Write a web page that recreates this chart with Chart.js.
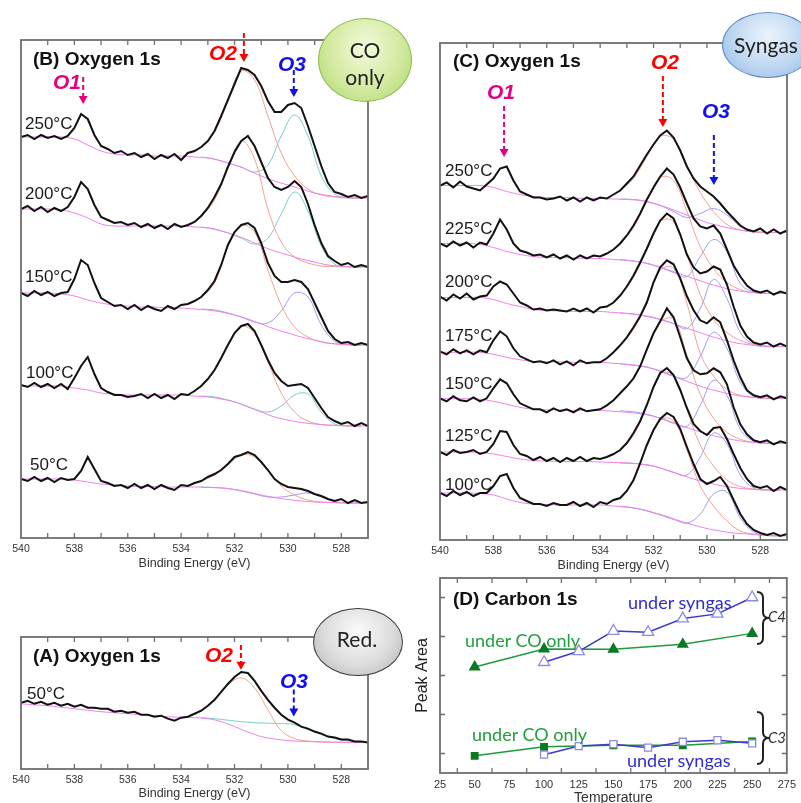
<!DOCTYPE html>
<html>
<head>
<meta charset="utf-8">
<script src="https://cdn.jsdelivr.net/npm/chart.js@4.4.1/dist/chart.umd.min.js"></script>
<style>
html, body { margin: 0; padding: 0; width: 801px; height: 803px; overflow: hidden; background: #fff; }
canvas { position: absolute; }
.t { position: absolute; white-space: nowrap; line-height: 1; transform: translateY(-50%);
     font-family: "Liberation Sans", Arial, sans-serif; color: #1a1a1a; z-index: 2; }
.ttl { font-weight: bold; font-size: 19px; color: #111; }
.temp { font-size: 17px; }
.pk { font-weight: bold; font-style: italic; font-size: 21px; }
.lab { font-family: Lato, "Open Sans", sans-serif; font-size: 18px; }
.bub { position: absolute; border-radius: 50%; z-index: 3; box-sizing: border-box; }
.bt { position: absolute; font-family: Lato, "Open Sans", sans-serif; font-size: 21px; color: #222;
      line-height: 1; transform: translate(-50%, -50%); z-index: 4; white-space: nowrap; }
svg { position: absolute; z-index: 2; }
</style>
</head>
<body>
<canvas id="cB" width="390" height="576" style="left:0;top:0"></canvas>
<canvas id="cC" width="401" height="578" style="left:400px;top:0"></canvas>
<canvas id="cA" width="390" height="213" style="left:0;top:590px"></canvas>
<canvas id="cD" width="401" height="237" style="left:400px;top:570px"></canvas>

<!-- panel B text -->
<div class="t ttl" style="left:33px;top:58px">(B) Oxygen 1s</div>
<div class="t pk" style="left:53px;top:81px;color:#e4007f">O1</div>
<div class="t pk" style="left:209px;top:52px;color:#ff0000">O2</div>
<div class="t pk" style="left:278px;top:63px;color:#1010e8">O3</div>
<div class="t temp" style="left:25px;top:123px">250°C</div>
<div class="t temp" style="left:25px;top:193px">200°C</div>
<div class="t temp" style="left:25px;top:276px">150°C</div>
<div class="t temp" style="left:26px;top:372px">100°C</div>
<div class="t temp" style="left:30px;top:464px">50°C</div>

<!-- panel C text -->
<div class="t ttl" style="left:453px;top:60px">(C) Oxygen 1s</div>
<div class="t pk" style="left:487px;top:91px;color:#e4007f">O1</div>
<div class="t pk" style="left:651px;top:61px;color:#ff0000">O2</div>
<div class="t pk" style="left:702px;top:110px;color:#1010e8">O3</div>
<div class="t temp" style="left:445px;top:170px">250°C</div>
<div class="t temp" style="left:445px;top:228px">225°C</div>
<div class="t temp" style="left:445px;top:281px">200°C</div>
<div class="t temp" style="left:445px;top:335px">175°C</div>
<div class="t temp" style="left:445px;top:383px">150°C</div>
<div class="t temp" style="left:445px;top:435px">125°C</div>
<div class="t temp" style="left:445px;top:484px">100°C</div>

<!-- panel A text -->
<div class="t ttl" style="left:33px;top:655px">(A) Oxygen 1s</div>
<div class="t pk" style="left:205px;top:654px;color:#ff0000">O2</div>
<div class="t pk" style="left:280px;top:680px;color:#1010e8">O3</div>
<div class="t temp" style="left:27px;top:693px">50°C</div>

<!-- panel D text -->
<div class="t ttl" style="left:453px;top:598px">(D) Carbon 1s</div>
<div class="t lab" style="left:628px;top:602px;color:#2f2fcf">under syngas</div>
<div class="t lab" style="left:465px;top:640px;color:#1f9f3f">under CO only</div>
<div class="t lab" style="left:472px;top:734px;color:#1f9f3f">under CO only</div>
<div class="t lab" style="left:627px;top:760px;color:#2f2fcf">under syngas</div>
<div class="t lab" style="left:768px;top:616px;font-size:15px;font-style:italic;color:#333">C4</div>
<div class="t lab" style="left:768px;top:737px;font-size:15px;font-style:italic;color:#333">C3</div>
<svg style="left:755px;top:590px" width="16" height="56">
  <path d="M2,2 Q8,2 8,8 L8,22 Q8,28 14,28 Q8,28 8,34 L8,48 Q8,54 2,54" fill="none" stroke="#222" stroke-width="2"/>
</svg>
<svg style="left:755px;top:710px" width="16" height="56">
  <path d="M2,2 Q8,2 8,8 L8,22 Q8,28 14,28 Q8,28 8,34 L8,48 Q8,54 2,54" fill="none" stroke="#222" stroke-width="2"/>
</svg>

<!-- condition bubbles -->
<div class="bub" style="left:318px;top:18px;width:94px;height:84px;border:1.5px solid #86bd45;
  background:radial-gradient(ellipse at 50% 35%, #f2fadc 0%, #d3ea9f 55%, #abd36a 100%)"></div>
<div class="bt" style="left:365px;top:49px">CO</div>
<div class="bt" style="left:365px;top:76px">only</div>
<div class="bub" style="left:722px;top:12px;width:92px;height:66px;border:1.5px solid #5889c8;
  background:radial-gradient(ellipse at 50% 35%, #eaf3fd 0%, #bfd7f1 55%, #8db5e3 100%)"></div>
<div class="bt" style="left:766px;top:44px">Syngas</div>
<div class="bub" style="left:313px;top:608px;width:90px;height:68px;border:1.5px solid #3a3a3a;
  background:radial-gradient(ellipse at 50% 35%, #fbfbfb 0%, #dcdcdc 55%, #b0b0b0 100%)"></div>
<div class="bt" style="left:357px;top:638px">Red.</div>

<script>
// ---- binding energy grids (eV) ----
const energy = [540, 539.75, 539.5, 539.25, 539, 538.75, 538.5, 538.25, 538, 537.75, 537.5, 537.25, 537,
  536.75, 536.5, 536.25, 536, 535.75, 535.5, 535.25, 535, 534.75, 534.5, 534.25, 534, 533.75, 533.5, 533.25,
  533, 532.75, 532.5, 532.25, 532, 531.75, 531.5, 531.25, 531, 530.75, 530.5, 530.25, 530, 529.75, 529.5,
  529.25, 529, 528.75, 528.5, 528.25, 528, 527.75, 527.5, 527.25, 527];
const bgEnergy = [540, 539.5, 539, 538.5, 538, 537.5, 537, 536.5, 536, 535.5, 535, 534.5, 534, 533.5, 533,
  532.5, 532, 531.5, 531, 530.5, 530, 529.5, 529, 528.5, 528, 527.5, 527];
const peakEnergy = [533.25, 532.75, 532.25, 531.75, 531.25, 530.75, 530.25, 529.75, 529.25, 528.75, 528.25, 527.75, 527.25];
const tickE = [540, 538, 536, 534, 532, 530, 528];
const minorE = [539, 538, 537, 536, 535, 534, 533, 532, 531, 530, 529, 528];

// ---- (B) O 1s under CO only: intensity above each trace's own right-end level ----
const tempsB = ['250°C', '200°C', '150°C', '100°C', '50°C'];
const offsetsB = [340, 271, 193, 112, 35];
const b250 = [61,63,59,63,60,62,59,62,70,84,79,63,52,49,45,47,43,45,41,44,39,43,40,44,38,45,47,51,57,67,
  82,98,114,130,128,123,112,97,86,86,93,95,90,72,52,32,15,6,4,1,3,0,2];
const b200 = [58,61,56,60,55,59,56,60,70,85,78,62,50,47,44,45,42,44,40,43,39,42,38,43,40,42,45,51,59,70,
  83,100,115,126,131,121,105,89,80,77,80,86,80,63,42,24,11,6,2,4,0,2,0];
const b150 = [52,49,54,50,53,49,52,53,66,85,80,62,47,43,39,40,36,40,35,39,36,34,39,36,40,41,44,48,55,64,
  80,100,113,120,122,117,102,82,69,63,63,65,63,56,42,28,14,6,2,3,0,2,0];
const b100 = [41,39,43,39,42,38,42,37,48,60,69,52,38,34,31,31,29,30,32,28,32,28,31,27,32,31,35,40,47,56,
  68,81,93,100,102,95,81,66,53,45,40,41,42,38,28,18,9,5,2,4,0,3,0];
const b50 = [24,22,26,22,25,21,25,23,24,32,46,34,22,20,17,18,15,19,15,18,14,18,15,13,18,17,20,22,26,29,
  33,39,46,48,51,48,41,33,24,19,16,15,14,12,9,7,4,2,4,0,3,0,1];
const b250Bg = [61,61,61,61,59,53,47,44,43,43,42,42,42,41,40,37,33,28,22,17,13,9,5,2.5,1,0,0];
const b200Bg = [58,58,58,57,54,49,43,41,41,41,41,41,41,40,39,36,32,27,21,16,12,8,5,2,1,0,0];
const b150Bg = [52,52,52,51,49,45,42,40,39,38,38,37,37,36,35,33,30,26,21,16,12,8,5,2,1,0,0];
const b100Bg = [40,40,40,40,38,36,33,32,31,31,31,31,31,30,29,27,24,19,14,9,6,3.5,2,1,0.5,0,0];
const b50Bg = [24,24,24,24,23,21,19,18,17,16.5,16.5,16,16,16,15.5,15,13.5,11,8,5.5,3.5,2,1,0.5,0,0,0];
const b250O2 = [50,66,97,127,118,82,45,22,9,3,1,0,0];
const b200O2 = [50,67,98,126,108,58,25,10,4,1,0.5,0,0];
const b150O2 = [47,62,98,119,113,75,40,18,8,3,1,0,0];
const b100O2 = [40,55,80,99,93,64,33,14,5,1.5,0.5,0,0];
const b50O2 = [22,28,38,48,46,33,17,8,3,1,0.5,0,0];
const b250O3 = [41,39,35,31,26,33,62,83,62,22,4,0.5,0];
const b200O3 = [40,38,34,29,23,29,53,75,56,21,3,0.5,0];
const b150O3 = [36,35,32,28,23,22,34,52,48,20,4,0.5,0];
const b100O3 = [30,29,26,22,17,14,20,31,32,14,2,0.3,0];
const b50O3 = [16,15.5,14.5,12,9,6,6,8,10,6,1.5,0.3,0];

// ---- (C) O 1s under syngas ----
const tempsC = ['250°C', '225°C', '200°C', '175°C', '150°C', '125°C', '100°C'];
const offsetsC = [307.5, 246.5, 193.5, 141.7, 96.7, 50, 4];
const c250 = [47,50,45,51,46,44,42,48,54,64,66,52,41,38,35,35,33,34,36,32,35,31,35,32,35,34,38,42,49,56,
  67,78,88,97,102,95,82,66,54,46,41,36,29,21,14,7,3,1,4,-1,3,-1,2];
const c225 = [50,47,52,48,51,46,51,49,60,74,64,50,43,41,38,39,36,39,35,38,34,38,35,38,37,40,44,50,58,68,
  80,94,106,117,125,119,106,90,75,67,65,68,60,44,28,17,8,3,1,3,-1,2,0];
const c200 = [50,46,52,48,53,47,50,51,60,65,62,53,44,41,37,38,36,37,36,35,38,35,38,34,39,40,44,51,60,71,
  84,98,113,126,133,128,112,92,79,73,75,80,77,62,40,21,10,4,2,4,0,3,0];
const c175 = [47,44,49,45,48,44,48,46,58,67,62,50,42,39,36,37,35,38,34,37,33,38,35,36,36,40,46,53,61,71,
  82,96,116,131,138,134,120,102,88,78,75,81,76,58,38,21,8,3,1,3,-1,2,0];
const c150 = [45,42,47,43,42,46,42,45,55,64,60,49,40,37,34,34,31,35,32,34,31,35,32,33,34,38,43,50,57,65,
  77,94,110,122,135,126,106,85,73,69,70,75,71,59,36,19,9,3,1,3,-1,2,0];
const c125 = [38,35,40,37,38,40,36,38,46,59,58,45,36,34,30,33,29,32,28,32,29,33,29,32,31,33,36,40,47,57,
  69,85,103,117,122,115,100,82,66,59,55,62,63,51,36,22,11,4,2,4,-1,3,0];
const c100 = [43,40,45,41,44,40,43,43,50,60,62,48,38,35,32,32,30,33,31,31,34,30,33,29,34,32,36,38,45,56,
  73,91,106,117,123,119,107,89,72,57,52,55,59,50,36,22,12,6,3,1,3,0,2];
const c250Bg = [47,47,47,47,45,41,38,36,35,35,34.5,34,34,33.5,33,32,29,25,20,15,10,6.5,3.5,1.5,0.5,0,0];
const c225Bg = [50,50,50,49,46,42,39,37,36,36,35.5,35,35,34,33,31.5,28.5,24,19.5,15,10.5,6.5,3.5,1.5,0.5,0,0];
const c200Bg = [49,49,49,49,47,43,40,37,36,35.5,35,35,35,34,33,31.5,29,25,20.5,16,11.5,7.5,4,2,0.5,0,0];
const c175Bg = [46,46,46,46,44,41,38.5,37,36.5,36.5,36,36,36,35,34,32.5,29.5,25,19.5,14.5,10,6.5,3.5,1.5,0.5,0,0];
const c150Bg = [44.5,44.5,44.5,44,42,39,36,34,33.5,33.5,33,33,33,32,31,29.5,27,23,18,13.5,9.5,6,3.5,1.5,0.5,0,0];
const c125Bg = [38,38,38,37.5,36,33.5,31,29.5,29,28.5,28.5,28.5,28,27.5,27,26,24,20,15.5,11,7.5,4.5,2.5,1,0.3,0,0];
const c100Bg = [43,43,43,42.5,41,37,33.5,32,31.5,31,31,31,31,30,29,27,23.5,19.5,15,11,7.5,5,3,2,1,0.5,0];
const c250O2 = [42,54,76,96,93,67,40,21,8,2.5,0.5,0,0];
const c225O2 = [50,66,93,116,113,82,47,25,11,4,1,0,0];
const c200O2 = [51,69,97,125,125,92,52,27,14,6,2,0.5,0];
const c175O2 = [53,69,95,128,130,95,45,22,9,3,1,0,0];
const c150O2 = [50,64,93,121,124,88,49,25,11,4,1,0,0];
const c125O2 = [40,55,84,116,114,80,45,24,10,3.5,1,0,0];
const c100O2 = [38,55,90,116,115,86,50,30,15,5,2,0.5,0];
const c250O3 = [33.5,33,31,27,21,15,19,24,17.5,6,1,0,0];
const c225O3 = [34,32.5,30,26,21,17,37,54,42,10,1.5,0,0];
const c200O3 = [33.5,32.5,30,27,23,18,38,67,48,14,2,0,0];
const c175O3 = [34.5,33,31,27,22,21,42,66,50,16,2,0,0];
const c150O3 = [32.5,31.5,29,25,20,17,38,63,48,14,2,0,0];
const c125O3 = [27,26.5,25,22,17.5,15,33,57,46,15,2,0,0];
const c100O3 = [29.5,28,25,21,16.5,13,22,42,44,18,4,0.5,0];

// ---- (A) O 1s reduced, 50°C ----
const offsetA = 26.7;
const a50 = [40,42,39,41,38,40,37,39,36,38,35,35,34,34,31,32,30,31,28,28,26,27,24,22,25,26,29,32,37,43,
  51,59,66,71,70,62,52,43,35,28,23,20,16,14,11,9,6,5,3,3,1,1,0];
const a50Bg = [39,38,37,35.5,34,32.5,31,30,29,28,27,26,25.5,25,24,21,16,10.5,6,3.5,2,1.2,0.8,0.5,0.3,0,0];
const a50O2 = [31,43,58,65,55,33,12,4,1.5,0.5,0.2,0,0];
const a50O3 = [25,24,22.5,21,20,19.5,19,18,13,8,4,1.5,0.5];

// ---- (D) C 1s peak areas ----
const tempsCO = [50, 100, 150, 200, 250];
const tempsSyn = [100, 125, 150, 175, 200, 225, 250];
const c4CO = [3.22, 3.68, 3.67, 3.80, 4.08];
const c4Syn = [3.34, 3.62, 4.14, 4.11, 4.46, 4.58, 5.0];
const c3CO = [0.94, 1.17, 1.21, 1.21, 1.31];
const c3Syn = [0.97, 1.19, 1.24, 1.15, 1.30, 1.34, 1.26];
const tickD = [25, 50, 75, 100, 125, 150, 175, 200, 225, 250, 275];
const minorD = [37.5, 62.5, 87.5, 112.5, 137.5, 162.5, 187.5, 212.5, 237.5, 262.5];

const FONT = '"Liberation Sans", Arial, sans-serif';
const BGC = '#ef80ea', O2C = '#f5a08e', CYAN = '#78cccc', VIOLET = '#9d9df2';
const MAG = '#e4007f', RED = '#ff0000', BLUE = '#1010e8';

// frame with inward ticks, drawn over the data
const framePlugin = {
    id: 'frame',
    afterDatasetsDraw(chart, args, o) {
        const { ctx, chartArea: a, scales: { x, y } } = chart;
        ctx.save();
        ctx.strokeStyle = '#6e6e6e';
        ctx.lineWidth = 1.8;
        ctx.strokeRect(a.left, a.top, a.right - a.left, a.bottom - a.top);
        ctx.lineWidth = 1.3;
        ctx.beginPath();
        (o.xTicks || []).forEach(v => {
            const p = x.getPixelForValue(v);
            ctx.moveTo(p, a.top); ctx.lineTo(p, a.top + 5);
            ctx.moveTo(p, a.bottom); ctx.lineTo(p, a.bottom - 5);
        });
        (o.yTicks || []).forEach(v => {
            const p = y.getPixelForValue(v);
            ctx.moveTo(a.left, p); ctx.lineTo(a.left + 5, p);
            ctx.moveTo(a.right, p); ctx.lineTo(a.right - 5, p);
        });
        ctx.stroke();
        ctx.restore();
    }
};

// dashed peak-position arrows
const arrowPlugin = {
    id: 'arrows',
    afterDatasetsDraw(chart, args, o) {
        const { ctx, scales: { x, y } } = chart;
        (o.list || []).forEach(a => {
            const px = x.getPixelForValue(a.e);
            const y0 = y.getPixelForValue(a.from);
            const y1 = y.getPixelForValue(a.to);
            ctx.save();
            ctx.strokeStyle = a.color;
            ctx.fillStyle = a.color;
            ctx.lineWidth = 2;
            ctx.setLineDash([5, 3]);
            ctx.beginPath();
            ctx.moveTo(px, y0);
            ctx.lineTo(px, y1 - 6);
            ctx.stroke();
            ctx.setLineDash([]);
            ctx.beginPath();
            ctx.moveTo(px - 4.5, y1 - 8);
            ctx.lineTo(px + 4.5, y1 - 8);
            ctx.lineTo(px, y1);
            ctx.closePath();
            ctx.fill();
            ctx.restore();
        });
    }
};

function toPoints(xs, ys, off) {
    return xs.map((e, i) => ({ x: e, y: ys[i] + off }));
}

function spectraChart(id, specs, yMax, pad, titlePad, arrows) {
    const datasets = [];
    specs.forEach(s => {
        datasets.push({ data: toPoints(energy, s.raw, s.off), borderColor: '#111', borderWidth: 2, tension: 0, order: 0 });
        datasets.push({ data: toPoints(bgEnergy, s.bg, s.off), borderColor: BGC, borderWidth: 1, tension: 0.4, order: 1 });
        datasets.push({ data: toPoints(peakEnergy, s.o2, s.off), borderColor: O2C, borderWidth: 1, tension: 0.4, order: 1 });
        datasets.push({ data: toPoints(peakEnergy, s.o3, s.off), borderColor: s.o3c, borderWidth: 1, tension: 0.4, order: 1 });
    });
    new Chart(document.getElementById(id), {
        type: 'line',
        data: { datasets },
        options: {
            responsive: false,
            animation: false,
            layout: { padding: pad },
            elements: { point: { radius: 0 } },
            scales: {
                x: {
                    type: 'linear', reverse: true, min: 527, max: 540,
                    afterBuildTicks: s => { s.ticks = tickE.map(v => ({ value: v })); },
                    afterFit: s => { s.height = 34; },
                    grid: { display: false, drawTicks: false },
                    border: { display: false },
                    ticks: { padding: 5, color: '#333', autoSkip: false, maxRotation: 0, font: { size: 10.5, family: FONT } },
                    title: { display: true, text: 'Binding Energy (eV)', color: '#333', font: { size: 12.5, family: FONT }, padding: { top: 0, bottom: titlePad } }
                },
                y: { display: false, min: 0, max: yMax }
            },
            plugins: {
                legend: { display: false },
                tooltip: { enabled: false },
                frame: { xTicks: minorE },
                arrows: { list: arrows }
            }
        },
        plugins: [framePlugin, arrowPlugin]
    });
}

// (B)
spectraChart('cB', [
    { raw: b250, bg: b250Bg, o2: b250O2, o3: b250O3, off: offsetsB[0], o3c: CYAN },
    { raw: b200, bg: b200Bg, o2: b200O2, o3: b200O3, off: offsetsB[1], o3c: CYAN },
    { raw: b150, bg: b150Bg, o2: b150O2, o3: b150O3, off: offsetsB[2], o3c: VIOLET },
    { raw: b100, bg: b100Bg, o2: b100O2, o3: b100O3, off: offsetsB[3], o3c: CYAN },
    { raw: b50, bg: b50Bg, o2: b50O2, o3: b50O3, off: offsetsB[4], o3c: VIOLET }
], 498, { left: 21, right: 22, top: 40, bottom: 4 }, 1, [
    { e: 537.67, from: 461, to: 434, color: MAG },
    { e: 531.65, from: 505, to: 476, color: RED },
    { e: 529.78, from: 468, to: 441, color: BLUE }
]);

// (C)
spectraChart('cC', [
    { raw: c250, bg: c250Bg, o2: c250O2, o3: c250O3, off: offsetsC[0], o3c: VIOLET },
    { raw: c225, bg: c225Bg, o2: c225O2, o3: c225O3, off: offsetsC[1], o3c: VIOLET },
    { raw: c200, bg: c200Bg, o2: c200O2, o3: c200O3, off: offsetsC[2], o3c: VIOLET },
    { raw: c175, bg: c175Bg, o2: c175O2, o3: c175O3, off: offsetsC[3], o3c: VIOLET },
    { raw: c150, bg: c150Bg, o2: c150O2, o3: c150O3, off: offsetsC[4], o3c: VIOLET },
    { raw: c125, bg: c125Bg, o2: c125O2, o3: c125O3, off: offsetsC[5], o3c: VIOLET },
    { raw: c100, bg: c100Bg, o2: c100O2, o3: c100O3, off: offsetsC[6], o3c: VIOLET }
], 497, { left: 40, right: 14, top: 43, bottom: 4 }, 1, [
    { e: 537.6, from: 434, to: 383, color: MAG },
    { e: 531.65, from: 464, to: 413, color: RED },
    { e: 529.74, from: 405, to: 355, color: BLUE }
]);

// (A)
spectraChart('cA', [
    { raw: a50, bg: a50Bg, o2: a50O2, o3: a50O3, off: offsetA, o3c: CYAN }
], 133, { left: 21, right: 22, top: 47, bottom: 0 }, 2, [
    { e: 531.76, from: 125, to: 100, color: RED },
    { e: 529.78, from: 80, to: 53, color: BLUE }
]);

// (D)
const GREEN = '#1f9a3c', DKGREEN = '#0b7a22', LINEBLUE = '#3a3acf', PTBLUE = '#8a8ae8';
function pts(xs, ys) { return xs.map((t, i) => ({ x: t, y: ys[i] })); }
new Chart(document.getElementById('cD'), {
    type: 'line',
    data: {
        datasets: [
            { data: pts(tempsSyn, c4Syn), borderColor: LINEBLUE, borderWidth: 1.5, pointStyle: 'triangle', pointRadius: 6.5,
              pointBackgroundColor: '#fff', pointBorderColor: PTBLUE, pointBorderWidth: 1.3 },
            { data: pts(tempsCO, c4CO), borderColor: GREEN, borderWidth: 1.5, pointStyle: 'triangle', pointRadius: 5.5,
              pointBackgroundColor: DKGREEN, pointBorderColor: DKGREEN },
            { data: pts(tempsSyn, c3Syn), borderColor: LINEBLUE, borderWidth: 1.5, pointStyle: 'rect', pointRadius: 5,
              pointBackgroundColor: '#fff', pointBorderColor: PTBLUE, pointBorderWidth: 1.3 },
            { data: pts(tempsCO, c3CO), borderColor: GREEN, borderWidth: 1.5, pointStyle: 'rect', pointRadius: 4.5,
              pointBackgroundColor: DKGREEN, pointBorderColor: DKGREEN }
        ]
    },
    options: {
        responsive: false,
        animation: false,
        layout: { padding: { left: 0, right: 13, top: 8, bottom: 0 } },
        scales: {
            x: {
                type: 'linear', min: 25, max: 275,
                afterBuildTicks: s => { s.ticks = tickD.map(v => ({ value: v })); },
                afterFit: s => { s.height = 34; },
                grid: { display: false, drawTicks: false },
                border: { display: false },
                ticks: { padding: 5, color: '#333', autoSkip: false, maxRotation: 0, font: { size: 11, family: FONT } },
                title: { display: true, text: 'Temperature', color: '#333', font: { size: 14, family: FONT }, padding: { top: 0, bottom: 0 } }
            },
            y: {
                min: 0.5, max: 5.5,
                afterFit: s => { s.width = 40; },
                grid: { display: false, drawTicks: false },
                border: { display: false },
                ticks: { display: false },
                title: { display: true, text: 'Peak Area', color: '#222', font: { size: 16, family: FONT }, padding: { top: 13, bottom: 0 } }
            }
        },
        plugins: {
            legend: { display: false },
            tooltip: { enabled: false },
            frame: { xTicks: minorD, yTicks: [1, 2, 3, 4, 5] }
        }
    },
    plugins: [framePlugin]
});
</script>
</body>
</html>
